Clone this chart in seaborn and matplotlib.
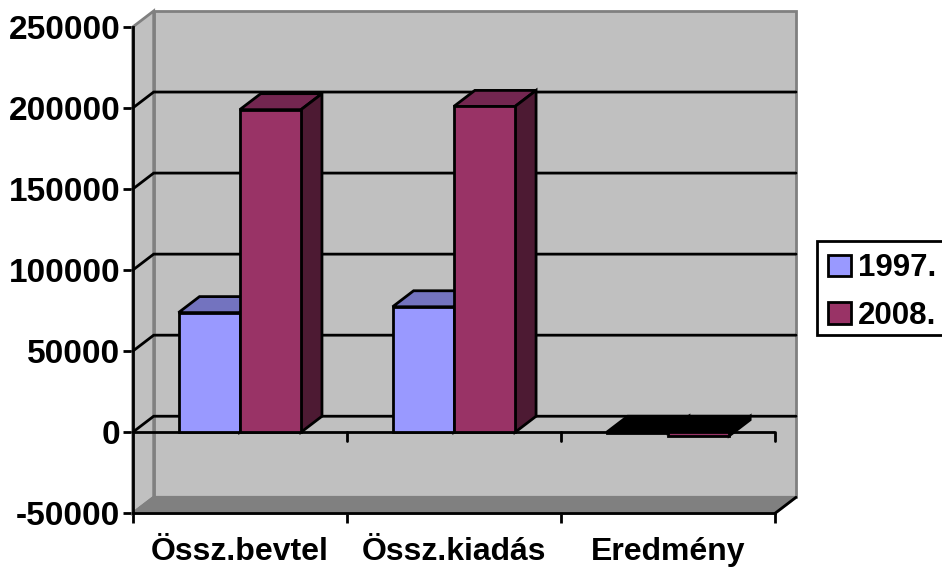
#!/usr/bin/env python3

import pandas as pd
import seaborn as sns
import matplotlib.pyplot as plt
from matplotlib.patches import Polygon, Rectangle

categories = ["Össz.bevtel", "Össz.kiadás", "Eredmény"]
years = ["1997.", "2008."]
values_1997 = [73800, 77400, -300]
values_2008 = [199000, 201000, -2200]
y_ticks = [-50000, 0, 50000, 100000, 150000, 200000, 250000]

FRONT = {"1997.": "#9999FF", "2008.": "#993366"}
TOP = {"1997.": "#7373BF", "2008.": "#732650"}
SIDE = {"1997.": "#4D4D80", "2008.": "#4D1A33"}

BAR_WIDTH = 0.572
# depth of the fake 3d box, in data units (21 px right, 16 px up)
DX = 0.098
DY = 9880
LW = 2.0


def main():
    df = pd.DataFrame({
        "cat": categories * 2,
        "year": [years[0]] * 3 + [years[1]] * 3,
        "val": values_1997 + values_2008,
    })

    sns.set_theme(style="white")
    plt.rcParams["font.family"] = ["Liberation Sans", "DejaVu Sans"]
    plt.rcParams["font.weight"] = "bold"
    plt.rcParams["axes.unicode_minus"] = False
    plt.rcParams["text.color"] = "black"

    fig = plt.figure(figsize=(9.42, 5.67), dpi=100)
    ax = fig.add_axes([132.7 / 942, 1 - 513.3 / 567, 642.3 / 942, 486.3 / 567])
    ax.patch.set_visible(False)

    sns.barplot(data=df, x="cat", y="val", hue="year", hue_order=years,
                palette=FRONT, width=BAR_WIDTH, gap=0, saturation=1,
                edgecolor="black", linewidth=LW, errorbar=None, zorder=4, ax=ax)

    x0, x1 = -0.5, 2.5
    ymin, ymax = y_ticks[0], y_ticks[-1]
    ax.set_xlim(x0, x1)
    ax.set_ylim(ymin, ymax)

    # walls and floor
    ax.add_patch(Polygon([(x0 + DX, ymin + DY), (x1 + DX, ymin + DY),
                          (x1 + DX, ymax + DY), (x0 + DX, ymax + DY)],
                         fc="#C0C0C0", ec="#808080", lw=LW, clip_on=False, zorder=1))
    ax.add_patch(Polygon([(x0, ymin), (x0 + DX, ymin + DY),
                          (x0 + DX, ymax + DY), (x0, ymax)],
                         fc="#C0C0C0", ec="#808080", lw=LW, clip_on=False, zorder=1))
    ax.add_patch(Polygon([(x0, ymin), (x1, ymin),
                          (x1 + DX, ymin + DY), (x0 + DX, ymin + DY)],
                         fc="#808080", ec="#808080", lw=LW, clip_on=False, zorder=1))

    # gridlines run along the side wall and the back wall
    for t in y_ticks[1:-1]:
        ax.plot([x0, x0 + DX, x1 + DX], [t, t + DY, t + DY], color="black",
                lw=LW, clip_on=False, zorder=2, solid_joinstyle="miter")
    ax.plot([x1, x1 + DX], [ymin, ymin + DY], color="black", lw=LW,
            clip_on=False, zorder=2)

    # zero line with its own ticks
    ax.plot([x0, x1], [0, 0], color="black", lw=LW, zorder=2)
    for b in [0.5, 1.5, 2.5]:
        ax.plot([b, b], [0, -5500], color="black", lw=LW, clip_on=False, zorder=2)

    # top and side faces of the bars
    for h_idx, year in enumerate(years):
        for c_idx, cat in enumerate(categories):
            v = df[(df.cat == cat) & (df.year == year)].val.iloc[0]
            left = c_idx - BAR_WIDTH / 2 + h_idx * BAR_WIDTH / 2
            right = left + BAR_WIDTH / 2
            top = max(v, 0)
            flat = abs(v) < 5000
            # almost flat bars come out solid black in the original
            top_color = "black" if flat else TOP[year]
            side_color = "black" if flat else SIDE[year]
            z = 3 + h_idx * 0.5
            ax.add_patch(Polygon([(left, top), (right, top),
                                  (right + DX, top + DY), (left + DX, top + DY)],
                                 fc=top_color, ec="black", lw=LW,
                                 joinstyle="miter", clip_on=False, zorder=z))
            ax.add_patch(Polygon([(right, min(v, 0)), (right + DX, min(v, 0) + DY),
                                  (right + DX, top + DY), (right, top)],
                                 fc=side_color, ec="black", lw=LW,
                                 joinstyle="miter", clip_on=False, zorder=z))

    ax.set_xlabel("")
    ax.set_ylabel("")
    ax.set_yticks(y_ticks)
    ax.set_xticks([0, 1, 2])
    ax.set_xticks([-0.5, 0.5, 1.5, 2.5], minor=True)
    ax.tick_params(axis="x", which="major", length=0, pad=17, labelsize=23)
    ax.tick_params(axis="x", which="minor", length=7, width=LW, color="black", bottom=True)
    ax.tick_params(axis="y", length=7, width=LW, color="black", left=True, pad=2, labelsize=24)
    for lab in ax.get_xticklabels() + ax.get_yticklabels():
        lab.set_fontweight("bold")
        lab.set_color("black")

    sns.despine(ax=ax, top=True, right=True)
    for side in ["left", "bottom"]:
        ax.spines[side].set_color("black")
        ax.spines[side].set_linewidth(LW)
        ax.spines[side].set_zorder(5)

    # legend box is separate, its rows don't sit centred in the original
    fig.add_artist(Rectangle((817 / 942, 1 - 335 / 567), 130 / 942, 94 / 567,
                             transform=fig.transFigure, fc="white", ec="black", lw=LW,
                             zorder=-1))
    handles, labels = ax.get_legend_handles_labels()
    leg = ax.legend(handles, labels, loc="upper left",
                    bbox_to_anchor=(819 / 942, 1 - 244 / 567),
                    bbox_transform=fig.transFigure, frameon=False,
                    prop={"size": 22.5, "weight": "bold"},
                    handlelength=0.72, handleheight=0.68, handletextpad=0.22,
                    labelspacing=0.555, borderpad=0.3, borderaxespad=0)
    leg.set_zorder(10)
    for h in leg.get_patches():
        h.set_edgecolor("black")
        h.set_linewidth(LW)
    for t in leg.get_texts():
        t.set_color("black")

    fig.savefig("out.png", dpi=100)


if __name__ == "__main__":
    main()
